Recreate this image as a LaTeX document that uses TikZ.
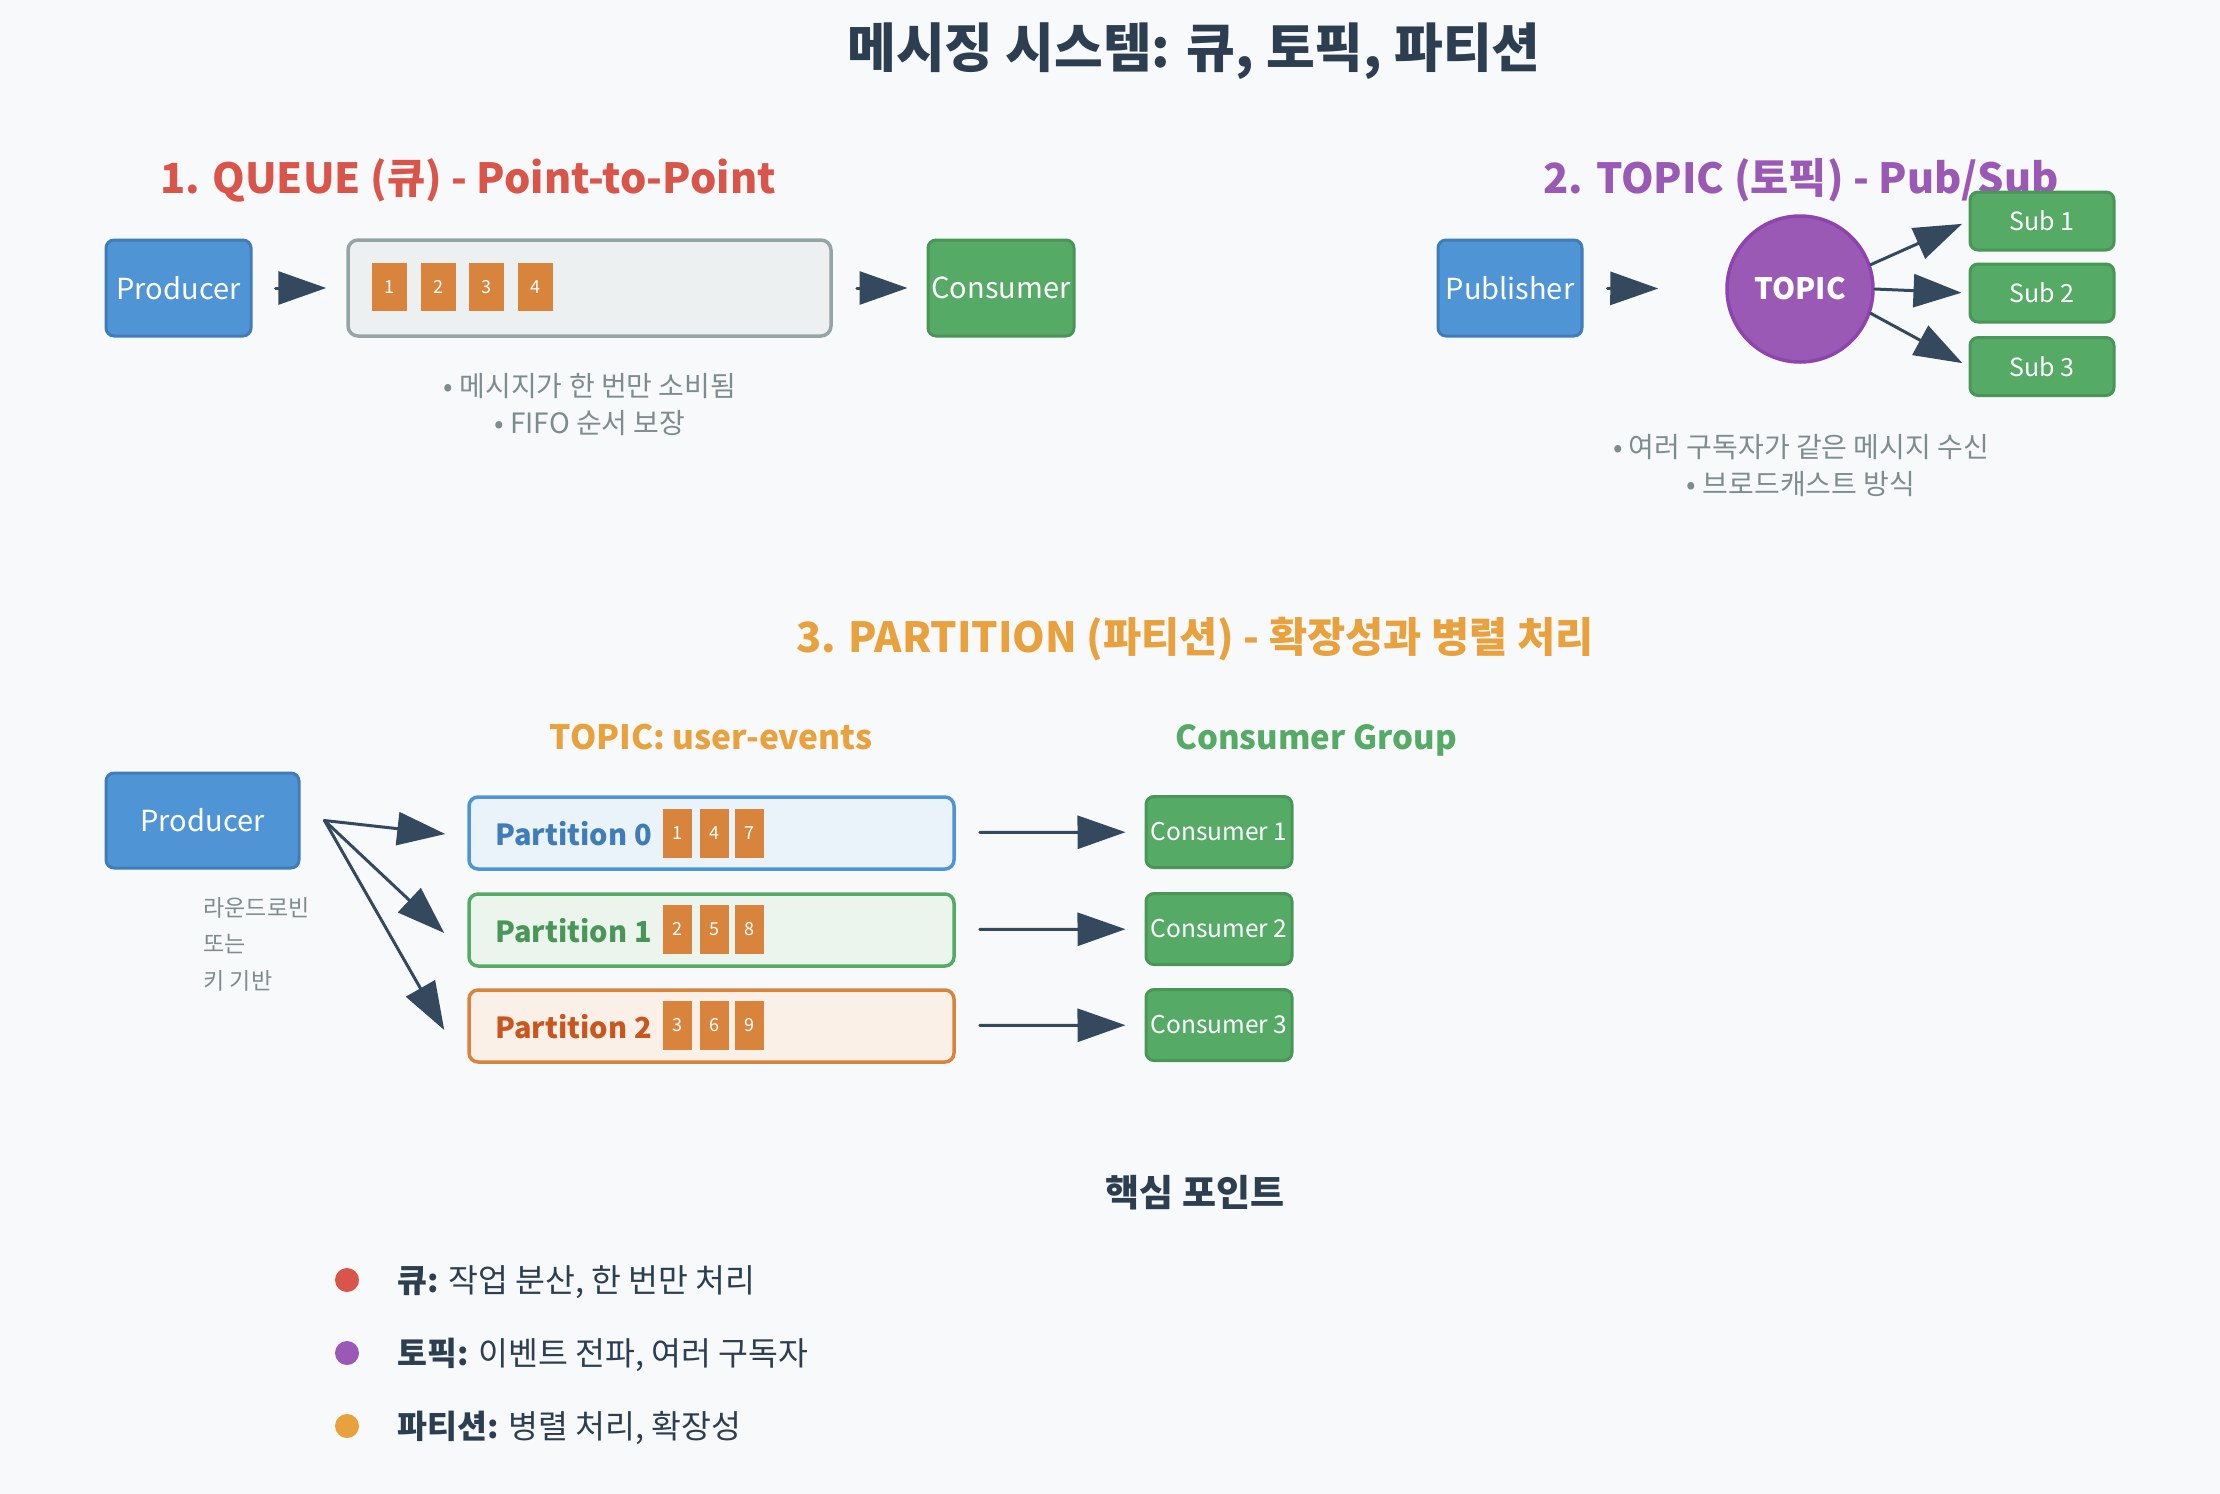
\documentclass[tikz,border=0pt]{standalone}
\usepackage{fontspec}
\setmainfont{Noto Sans CJK KR}
\usetikzlibrary{calc,arrows.meta}
\definecolor{DiagInk}{HTML}{2C3E50}
\definecolor{DiagArrow}{HTML}{34495E}
\definecolor{DiagBg}{HTML}{F8F9FA}
\definecolor{DiagGray}{HTML}{7F8C8D}
\definecolor{DiagRed}{HTML}{D9554A}
\definecolor{DiagPurple}{HTML}{9B59B6}
\definecolor{DiagPurpleDark}{HTML}{8E44AD}
\definecolor{DiagOrange}{HTML}{E8A13C}
\definecolor{DiagBlue}{HTML}{4F95D6}
\definecolor{DiagBlueDark}{HTML}{3F7CB8}
\definecolor{DiagGreen}{HTML}{55AA66}
\definecolor{DiagGreenDark}{HTML}{4A9558}
\definecolor{DiagMsg}{HTML}{D9843C}
\definecolor{DiagQueue}{HTML}{ECF0F1}
\definecolor{DiagQueueEdge}{HTML}{95A5A6}
\definecolor{DiagPumpkin}{HTML}{C8561E}

\begin{document}
\begin{tikzpicture}[x=1pt,y=-1pt,line cap=round,line join=round,
  box/.style={draw,line width=3pt,rounded corners=8pt,text=white,inner sep=0pt,font=\fontsize{29}{34}\selectfont},
  part/.style={draw,line width=3.5pt,rounded corners=9pt,minimum width=485pt,minimum height=72pt,inner sep=0pt},
  msg/.style={fill=DiagMsg,text=white,inner sep=0pt,minimum width=35pt,minimum height=48pt,font=\fontsize{18}{20}\selectfont},
  pmsg/.style={msg,minimum width=29pt,minimum height=49pt},
  hdr/.style={font=\fontsize{41.5}{48}\selectfont\bfseries},
  note/.style={text=DiagGray,font=\fontsize{28}{32}\selectfont},
  arr/.style={draw=DiagArrow,line width=3pt,-{Triangle[length=48pt,width=33pt]}},
  dot/.style={circle,inner sep=0pt,minimum size=24pt}]
  \fill[DiagBg] (0,0) rectangle (2220,1494);
  \useasboundingbox (0,0) rectangle (2220,1494);

  \node[text=DiagInk,font=\fontsize{53}{60}\selectfont\bfseries] (title) at (1194,51) {메시징 시스템: 큐, 토픽, 파티션};

  % 1. queue
  \node[hdr,text=DiagRed] (hdrq) at (468,180) {1. QUEUE (큐) - Point-to-Point};
  \node[box,fill=DiagBlue,draw=DiagBlueDark,minimum width=145pt,minimum height=96pt] (prod1) at (178.5,288) {Producer};
  \node[draw=DiagQueueEdge,fill=DiagQueue,line width=3.5pt,rounded corners=10pt,minimum width=483pt,minimum height=96pt] (queue) at (589.5,288) {};
  \node[msg] (q1) at (389,287) {1}; \node[msg] (q2) at (438,287) {2};
  \node[msg] (q3) at (486,287) {3}; \node[msg] (q4) at (535,287) {4};
  \node[box,fill=DiagGreen,draw=DiagGreenDark,minimum width=146pt,minimum height=96pt] (cons) at (1001,288) {Consumer};
  \draw[arr,shorten <=23pt,shorten >=20pt] (prod1) -- (queue);
  \draw[arr,shorten <=24pt,shorten >=19pt] (queue) -- (cons);
  \node[note] (nq1) at (590,386) {• 메시지가 한 번만 소비됨};
  \node[note] (nq2) at (590,423) {• FIFO 순서 보장};

  % 2. topic
  \node[hdr,text=DiagPurple] (hdrt) at (1801,180) {2. TOPIC (토픽) - Pub/Sub};
  \node[box,fill=DiagBlue,draw=DiagBlueDark,minimum width=144pt,minimum height=96pt] (pub) at (1510,288) {Publisher};
  \node[circle,draw=DiagPurpleDark,fill=DiagPurple,line width=3.5pt,minimum size=146pt,text=white,font=\fontsize{29.5}{34}\selectfont\bfseries] (topic) at (1800,289) {TOPIC};
  \node[box,fill=DiagGreen,draw=DiagGreenDark,minimum width=144pt,minimum height=58pt,font=\fontsize{25}{30}\selectfont] (sub1) at (2042,221) {Sub 1};
  \node[box,fill=DiagGreen,draw=DiagGreenDark,minimum width=144pt,minimum height=58pt,font=\fontsize{25}{30}\selectfont] (sub2) at (2042,293) {Sub 2};
  \node[box,fill=DiagGreen,draw=DiagGreenDark,minimum width=144pt,minimum height=58pt,font=\fontsize{25}{30}\selectfont] (sub3) at (2042,366.5) {Sub 3};
  \draw[arr,shorten <=24pt,shorten >=67pt] (pub) -- (topic);
  \draw[arr,shorten >=7pt] (topic.19) -- (sub1.west);
  \draw[arr,shorten >=7pt] (topic.east) -- (sub2.west);
  \draw[arr,shorten >=7pt] (topic.-19) -- (sub3.west);
  \node[note] (nt1) at (1801,447) {• 여러 구독자가 같은 메시지 수신};
  \node[note] (nt2) at (1801,484) {• 브로드캐스트 방식};

  % 3. partition
  \node[hdr,text=DiagOrange] (hdrp) at (1195,639) {3. PARTITION (파티션) - 확장성과 병렬 처리};
  \node[text=DiagOrange,font=\fontsize{33.5}{38}\selectfont\bfseries] (tname) at (711,737) {TOPIC: user-events};
  \node[text=DiagGreen,font=\fontsize{33}{38}\selectfont\bfseries] (gname) at (1316,740) {Consumer Group};
  \node[box,fill=DiagBlue,draw=DiagBlueDark,minimum width=193pt,minimum height=95pt] (prod3) at (202.5,820.5) {Producer};
  \node[anchor=west,text=DiagGray,font=\fontsize{23}{26}\selectfont] (rr1) at (200,908) {라운드로빈};
  \node[anchor=west,text=DiagGray,font=\fontsize{23}{26}\selectfont] (rr2) at (200,944) {또는};
  \node[anchor=west,text=DiagGray,font=\fontsize{23}{26}\selectfont] (rr3) at (200,981) {키 기반};

  \node[part,draw=DiagBlue,fill=DiagBlue!12] (p0) at (711.5,833) {};
  \node[part,draw=DiagGreen,fill=DiagGreen!12] (p1) at (711.5,930) {};
  \node[part,draw=DiagMsg,fill=DiagMsg!12] (p2) at (711.5,1026) {};
  \node[anchor=west,text=DiagBlueDark,font=\fontsize{29}{34}\selectfont\bfseries] (l0) at (492,834) {Partition 0};
  \node[anchor=west,text=DiagGreenDark,font=\fontsize{29}{34}\selectfont\bfseries] (l1) at (492,931) {Partition 1};
  \node[anchor=west,text=DiagPumpkin,font=\fontsize{29}{34}\selectfont\bfseries] (l2) at (492,1027) {Partition 2};
  \node[pmsg] (m1) at (677,833) {1}; \node[pmsg] (m4) at (714,833) {4}; \node[pmsg] (m7) at (749.5,833) {7};
  \node[pmsg] (m2) at (677,929) {2}; \node[pmsg] (m5) at (714,929) {5}; \node[pmsg] (m8) at (749.5,929) {8};
  \node[pmsg] (m3) at (677,1025) {3}; \node[pmsg] (m6) at (714,1025) {6}; \node[pmsg] (m9) at (749.5,1025) {9};

  \node[box,fill=DiagGreen,draw=DiagGreenDark,minimum width=146pt,minimum height=71pt,font=\fontsize{24.5}{30}\selectfont] (c1) at (1219,832) {Consumer 1};
  \node[box,fill=DiagGreen,draw=DiagGreenDark,minimum width=146pt,minimum height=71pt,font=\fontsize{24.5}{30}\selectfont] (c2) at (1219,929) {Consumer 2};
  \node[box,fill=DiagGreen,draw=DiagGreenDark,minimum width=146pt,minimum height=71pt,font=\fontsize{24.5}{30}\selectfont] (c3) at (1219,1025) {Consumer 3};

  \coordinate (fan) at ($(prod3.east)+(24,0)$);
  \coordinate (t0) at ($(p0.west)+(-22,1)$);
  \coordinate (t1) at ($(p1.west)+(-23,3)$);
  \coordinate (t2) at ($(p2.west)+(-23,4)$);
  \draw[arr] (fan) -- (t0);
  \draw[arr] (fan) -- (t1);
  \draw[arr] (fan) -- (t2);
  \draw[arr,shorten <=24pt,shorten >=19pt] (p0) -- (c1);
  \draw[arr,shorten <=24pt,shorten >=19pt] (p1) -- (c2);
  \draw[arr,shorten <=24pt,shorten >=19pt] (p2) -- (c3);

  % key points
  \node[text=DiagInk,font=\fontsize{37}{42}\selectfont\bfseries] (keys) at (1195,1193) {핵심 포인트};
  \node[dot,fill=DiagRed] (dq) at (347,1280) {};
  \node[dot,fill=DiagPurple] (dt) at (347,1353) {};
  \node[dot,fill=DiagOrange] (dp) at (347,1426) {};
  \node[anchor=west,text=DiagInk,font=\fontsize{32.5}{38}\selectfont] (kq) at (394,1282) {\textbf{큐:} 작업 분산, 한 번만 처리};
  \node[anchor=west,text=DiagInk,font=\fontsize{32.5}{38}\selectfont] (kt) at (394,1355) {\textbf{토픽:} 이벤트 전파, 여러 구독자};
  \node[anchor=west,text=DiagInk,font=\fontsize{32.5}{38}\selectfont] (kp) at (394,1428) {\textbf{파티션:} 병렬 처리, 확장성};
\end{tikzpicture}
\end{document}
